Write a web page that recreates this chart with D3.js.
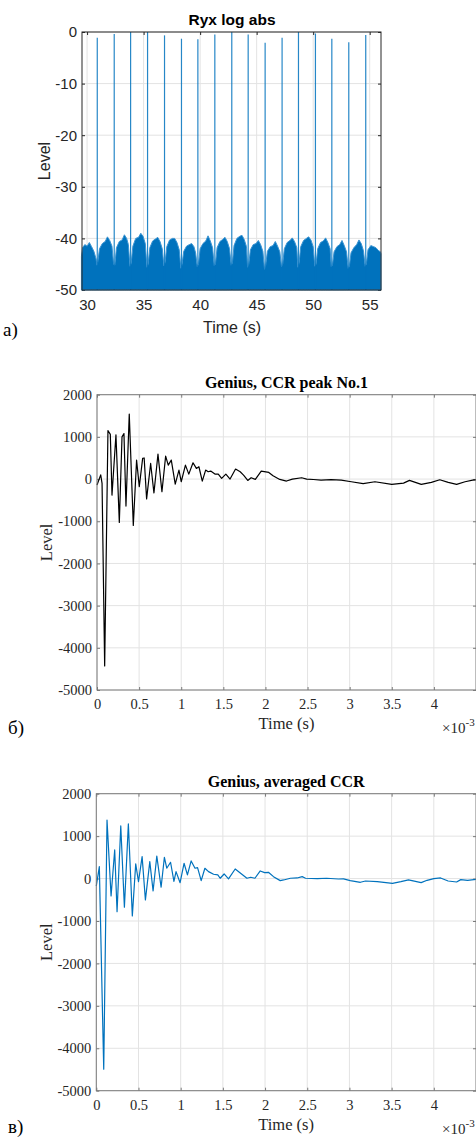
<!DOCTYPE html>
<html>
<head>
<meta charset="utf-8">
<script src="https://cdn.jsdelivr.net/npm/d3@7"></script>
<style>
  body { margin: 0; background: #fff; }
  svg { display: block; }
</style>
</head>
<body>
<svg id="fig" width="476" height="1137"></svg>
<script>
// ---- panel a) Ryx log abs ----
const ryxXTicks = [30, 35, 40, 45, 50, 55]
const ryxYTicks = [0, -10, -20, -30, -40, -50]
const ryxPeakTime = [30.9, 32.4, 33.85, 35.35, 36.85, 38.35, 39.8, 41.3, 42.8, 44.25, 45.75, 47.25, 48.7, 50.2, 51.65, 53.15, 54.65]
const ryxPeakLevel = [-1.1, -0.4, 0, 0, -0.65, -1.3, -1.4, -0.5, 0, -0.5, -2.1, -1.1, 0, -0.3, -1.3, -2.0, -0.6]
// upper edge of the noise band (time s, level)
const ryxNoiseTime = [
  29.5, 29.6, 29.8, 30.0, 30.2, 30.4, 30.6, 30.8, 30.87,
  30.95, 31.1, 31.35, 31.6, 31.8, 32.0, 32.2, 32.35,
  32.45, 32.6, 32.85, 33.1, 33.3, 33.5, 33.65, 33.8,
  33.9, 34.05, 34.3, 34.55, 34.75, 34.95, 35.15, 35.3,
  35.4, 35.55, 35.8, 36.05, 36.25, 36.45, 36.65, 36.8,
  36.9, 37.05, 37.3, 37.55, 37.75, 37.95, 38.15, 38.3,
  38.4, 38.55, 38.8, 39.05, 39.25, 39.45, 39.6, 39.75,
  39.85, 40.0, 40.25, 40.5, 40.7, 40.9, 41.1, 41.25,
  41.35, 41.5, 41.75, 42.0, 42.2, 42.4, 42.6, 42.75,
  42.85, 43.0, 43.25, 43.5, 43.7, 43.9, 44.1, 44.2,
  44.3, 44.45, 44.7, 44.95, 45.15, 45.35, 45.55, 45.7,
  45.8, 45.95, 46.2, 46.45, 46.65, 46.85, 47.05, 47.2,
  47.3, 47.45, 47.7, 47.95, 48.15, 48.35, 48.55, 48.65,
  48.75, 48.9, 49.15, 49.4, 49.6, 49.8, 50.0, 50.15,
  50.25, 50.4, 50.65, 50.9, 51.1, 51.3, 51.5, 51.6,
  51.7, 51.85, 52.1, 52.35, 52.55, 52.75, 52.95, 53.1,
  53.2, 53.35, 53.6, 53.85, 54.05, 54.25, 54.45, 54.6,
  54.7, 54.85, 55.1, 55.35, 55.55, 55.75, 55.95, 56.0
]
const ryxNoiseLevel = [
  -43.5, -41.8, -41.2, -41.5, -40.8, -41.6, -42.5, -44.0, -45.2,
  -44.5, -42.0, -41.0, -40.6, -39.7, -40.4, -41.5, -45.0,
  -45.2, -41.8, -40.6, -40.3, -39.3, -40.0, -41.2, -45.4,
  -44.8, -41.5, -40.0, -39.8, -39.0, -39.6, -41.0, -45.6,
  -45.0, -41.8, -40.5, -40.1, -39.8, -40.6, -42.0, -45.3,
  -44.6, -41.6, -40.3, -40.0, -40.0, -40.8, -42.2, -45.8,
  -45.0, -42.5, -41.5, -41.2, -41.0, -41.6, -42.8, -45.5,
  -45.0, -42.0, -41.0, -40.5, -39.5, -40.5, -41.8, -45.3,
  -45.0, -41.8, -40.6, -40.2, -39.8, -40.6, -42.0, -45.2,
  -44.8, -41.4, -40.0, -39.6, -39.4, -40.2, -41.6, -45.6,
  -45.0, -42.2, -41.2, -41.0, -40.4, -41.2, -42.5, -46.0,
  -45.2, -42.5, -41.6, -41.4, -40.6, -41.5, -42.6, -45.5,
  -45.0, -42.0, -40.8, -40.4, -39.9, -40.6, -41.8, -45.6,
  -44.8, -41.6, -40.4, -40.0, -39.7, -40.3, -41.6, -45.4,
  -45.0, -42.0, -40.8, -40.5, -39.9, -40.8, -42.0, -45.5,
  -45.2, -42.6, -41.6, -41.2, -40.4, -41.4, -42.6, -45.8,
  -45.4, -42.8, -41.8, -41.2, -40.3, -41.0, -42.4, -45.4,
  -45.0, -42.2, -41.4, -41.6, -41.8, -42.3, -42.6, -43.0
]

// ---- panel б) CCR peak No.1 (time in ms, shown as x10^-3 s) ----
const ccrTicksX = [0, 0.5, 1, 1.5, 2, 2.5, 3, 3.5, 4]
const ccrTicksY = [2000, 1000, 0, -1000, -2000, -3000, -4000, -5000]
const peak1Time = [0, 0.044, 0.06, 0.091, 0.13, 0.158, 0.178, 0.225, 0.265, 0.297, 0.32, 0.344, 0.383, 0.431,
  0.47, 0.502, 0.542, 0.56, 0.589, 0.637, 0.676, 0.724, 0.771, 0.815, 0.846, 0.882, 0.929, 0.973, 1.0,
  1.05, 1.09, 1.14, 1.18, 1.21, 1.25, 1.29, 1.32, 1.35, 1.40, 1.44, 1.48, 1.53, 1.58, 1.645, 1.70, 1.74,
  1.79, 1.83, 1.88, 1.95, 2.04, 2.09, 2.17, 2.25, 2.32, 2.43, 2.49, 2.57, 2.66, 2.78, 2.90, 3.02, 3.16,
  3.30, 3.50, 3.64, 3.71, 3.85, 3.97, 4.07, 4.17, 4.27, 4.37, 4.46, 4.5]
const peak1Level = [-140, 100, -100, -4430, 1150, 1060, -380, 1050, -1030, 1000, 1080, -640, 1540, -1100,
  450, -180, 490, 500, -470, 370, -330, 590, -300, 545, 330, 450, -120, 213, -63,
  330, 118, 387, 253, 292, -47, 213, 174, 190, 118, 118, 16, 118, 0, 237, 174, 95,
  -32, 32, -8, 190, 158, 79, -8, -47, 0, 32, 0, -10, -24, -15, -24, -63, -110,
  -63, -126, -95, -32, -126, -79, -16, -79, -126, -63, -24, -20]

// ---- panel в) averaged CCR ----
const avgTime = [0, 0.036, 0.088, 0.127, 0.175, 0.218, 0.246, 0.29, 0.333, 0.38, 0.427, 0.467, 0.5, 0.543,
  0.582, 0.634, 0.673, 0.717, 0.768, 0.807, 0.835, 0.88, 0.92, 0.945, 0.993, 1.04, 1.08, 1.124, 1.17, 1.2,
  1.243, 1.287, 1.33, 1.39, 1.44, 1.468, 1.515, 1.567, 1.646, 1.725, 1.785, 1.83, 1.88, 1.943, 1.995, 2.04,
  2.1, 2.18, 2.22, 2.3, 2.38, 2.44, 2.48, 2.62, 2.73, 2.87, 2.93, 3.01, 3.13, 3.19, 3.33, 3.51, 3.61, 3.7,
  3.85, 3.92, 4.0, 4.08, 4.17, 4.27, 4.32, 4.4, 4.5]
const avgLevel = [-175, 280, -4495, 1380, -410, 674, -780, 1240, -676, 1287, -880, 344, -73, 516,
  -504, 398, -292, 530, -205, 502, 243, 384, -64, 163, -97, 360, 85, 415, 243, 257,
  -49, 243, 163, 101, 85, 7, 108, -9, 226, 101, 7, 31, 7, 179, 139, 148,
  45, -49, -33, 7, 14, 45, 7, 0, 7, -10, -9, -49, -88, -57, -73, -112, -73, -33,
  -97, -41, 0, 14, -57, -81, -25, -41, -20]

const svg = d3.select('#fig')
const DARK = '#262626'
const GRID = '#e3e3e3'

// рисуем оси в стиле matlab: рамка, тики внутрь, сетка
function frame(g, x, y, xt, yt, font, fontSize, boxColor, fmtX) {
    const [x0, x1] = x.range()
    const [y0, y1] = y.range() // y0 bottom, y1 top

    const grid = g.append('g')
    grid.selectAll('.gx').data(xt).enter().append('line')
        .attr('x1', d => x(d)).attr('x2', d => x(d))
        .attr('y1', y1).attr('y2', y0)
        .attr('stroke', GRID).attr('stroke-width', 1)
    grid.selectAll('.gy').data(yt).enter().append('line')
        .attr('x1', x0).attr('x2', x1)
        .attr('y1', d => y(d)).attr('y2', d => y(d))
        .attr('stroke', GRID).attr('stroke-width', 1)

    const ax = [
        g.append('g').attr('transform', 'translate(0,' + y0 + ')')
            .call(d3.axisBottom(x).tickValues(xt).tickSize(-3).tickPadding(9).tickFormat(fmtX)),
        g.append('g').attr('transform', 'translate(0,' + y1 + ')')
            .call(d3.axisTop(x).tickValues(xt).tickSize(-3).tickFormat('')),
        g.append('g').attr('transform', 'translate(' + x0 + ',0)')
            .call(d3.axisLeft(y).tickValues(yt).tickSize(-3).tickPadding(5).tickFormat(d => String(d))),
        g.append('g').attr('transform', 'translate(' + x1 + ',0)')
            .call(d3.axisRight(y).tickValues(yt).tickSize(-3).tickFormat(''))
    ]
    ax.forEach(a => {
        a.select('.domain').remove()
        a.selectAll('line').attr('stroke', boxColor)
        a.selectAll('text').attr('fill', DARK)
            .style('font-family', font).style('font-size', fontSize + 'px')
    })
}

function box(g, x, y, color) {
    const [x0, x1] = x.range()
    const [y0, y1] = y.range()
    g.append('rect')
        .attr('x', x0).attr('y', y1)
        .attr('width', x1 - x0).attr('height', y0 - y1)
        .attr('fill', 'none').attr('stroke', color).attr('stroke-width', 1)
}

// ---------- a) ----------
{
    const g = svg.append('g')
    const x = d3.scaleLinear().domain([29.55, 56]).range([82, 381])
    const y = d3.scaleLinear().domain([-50, 0]).range([290, 32])
    const sans = 'Liberation Sans, Arial, sans-serif'
    frame(g, x, y, ryxXTicks, ryxYTicks, sans, 15, DARK, d => d)

    const noise = ryxNoiseTime.map((t, i) => [t, ryxNoiseLevel[i]])
    g.append('path').datum(noise)
        .attr('d', d3.area().x(d => x(d[0])).y0(y(-50)).y1(d => y(d[1])))
        .attr('fill', '#0072BD').attr('stroke', '#3a94d3').attr('stroke-width', 1)

    g.selectAll('.pk').data(ryxPeakTime).enter().append('line')
        .attr('x1', d => x(d)).attr('x2', d => x(d))
        .attr('y1', y(-50)).attr('y2', (d, i) => y(ryxPeakLevel[i]))
        .attr('stroke', '#0072BD').attr('stroke-width', 1.2).attr('stroke-opacity', 0.85)

    box(g, x, y, DARK)

    g.append('text').attr('x', 232).attr('y', 25).attr('text-anchor', 'middle')
        .style('font-family', sans).style('font-size', '15.5px').style('font-weight', 'bold')
        .text('Ryx log abs')
    g.append('text').attr('x', 232).attr('y', 333).attr('text-anchor', 'middle')
        .attr('fill', DARK).style('font-family', sans).style('font-size', '16px')
        .text('Time (s)')
    g.append('text').attr('transform', 'translate(50,161) rotate(-90)').attr('text-anchor', 'middle')
        .attr('fill', DARK).style('font-family', sans).style('font-size', '16px')
        .text('Level')
    g.append('text').attr('x', 3).attr('y', 336)
        .style('font-family', 'Liberation Serif, Times New Roman, serif').style('font-size', '19px')
        .text('a)')
}

// ---------- б) и в) ----------
function ccrPanel(opt) {
    const serif = 'Liberation Serif, Times New Roman, serif'
    const g = svg.append('g')
    const x = d3.scaleLinear().domain([0, 4.5]).range([opt.left, 476])
    const y = d3.scaleLinear().domain([-5000, 2000]).range([opt.bottom, opt.top])
    frame(g, x, y, ccrTicksX, ccrTicksY, serif, 14.5, '#7a7a7a', d => d)

    const pts = opt.t.map((t, i) => [t, opt.v[i]])
    g.append('path').datum(pts)
        .attr('d', d3.line().x(d => x(d[0])).y(d => y(d[1])))
        .attr('fill', 'none').attr('stroke', opt.color).attr('stroke-width', 1.2)
        .attr('stroke-linejoin', 'round')

    box(g, x, y, '#7a7a7a')

    const cx = (opt.left + 476) / 2
    g.append('text').attr('x', cx).attr('y', opt.top - 7).attr('text-anchor', 'middle')
        .style('font-family', serif).style('font-size', '16px').style('font-weight', 'bold')
        .text(opt.title)
    g.append('text').attr('x', cx).attr('y', opt.bottom + 39).attr('text-anchor', 'middle')
        .attr('fill', DARK).style('font-family', serif).style('font-size', '16.5px')
        .text('Time (s)')
    g.append('text').attr('transform', 'translate(52,' + (opt.top + opt.bottom) / 2 + ') rotate(-90)')
        .attr('text-anchor', 'middle')
        .attr('fill', DARK).style('font-family', serif).style('font-size', '16.5px')
        .text('Level')
    const mult = g.append('text').attr('x', 442).attr('y', opt.bottom + 43)
        .attr('fill', DARK).style('font-family', serif).style('font-size', '15px')
    mult.append('tspan').text('×10')
    mult.append('tspan').attr('dy', -7).style('font-size', '11px').text('-3')
    g.append('text').attr('x', 8).attr('y', opt.tagY)
        .style('font-family', serif).style('font-size', '19px')
        .text(opt.tag)
}

ccrPanel({ left: 97, top: 394.7, bottom: 690, t: peak1Time, v: peak1Level,
    color: '#000', title: 'Genius, CCR peak No.1', tag: 'б)', tagY: 734 })
ccrPanel({ left: 96.3, top: 793.7, bottom: 1090.7, t: avgTime, v: avgLevel,
    color: '#0072BD', title: 'Genius, averaged CCR', tag: 'в)', tagY: 1133 })
</script>
</body>
</html>
